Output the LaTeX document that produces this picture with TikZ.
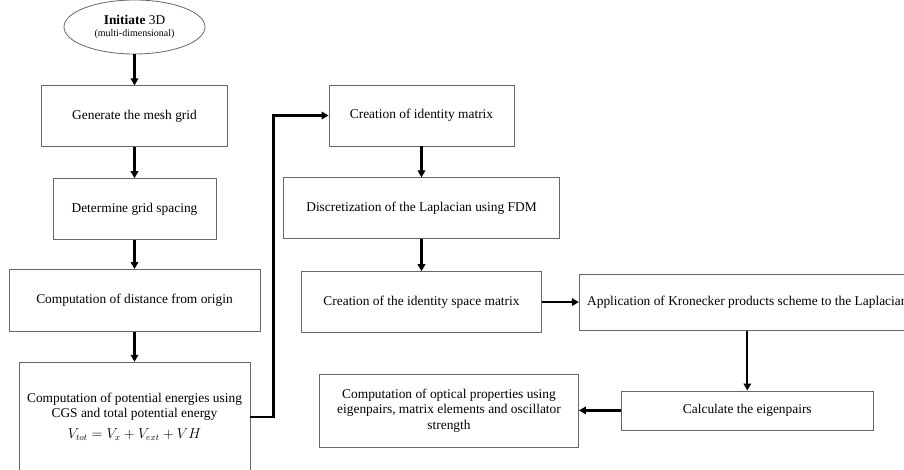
\documentclass[tikz,border=0pt]{standalone}
\usepackage{fontspec}
\setmainfont{Liberation Serif}
\usetikzlibrary{shapes.geometric,arrows.meta,positioning}

\begin{document}
\begin{tikzpicture}[x=1pt,y=-1pt,node distance=31pt,>={Triangle[length=7pt,width=7.5pt]},
	every node/.style={font=\fontsize{13.4}{15.5}\selectfont},
	block/.style={draw=black!60,line width=0.8pt,inner sep=0pt,align=center},
	flow/.style={line width=2.2pt}]
	
	\useasboundingbox (0,0) rectangle (904,469);
	
	% left column
	\node[block,ellipse,minimum width=141pt,minimum height=54pt] (start) at (134.5,27) {\textbf{Initiate} 3D\\[-3pt]{\fontsize{10}{11}\selectfont(multi-dimensional)}};
	\node[block,minimum width=186pt,minimum height=61pt] (mesh) [below=of start] {Generate the mesh grid};
	\node[block,minimum width=163pt,minimum height=61pt] (spacing) [below=of mesh] {Determine grid spacing};
	\node[block,minimum width=251pt,minimum height=62pt] (dist) [below=29pt of spacing] {Computation of distance from origin};
	\node[block,minimum width=231pt,minimum height=109pt] (pot) [below=30pt of dist] {Computation of potential energies using\\CGS and total potential energy\\[5pt]$V_{tot}=V_x+V_{ext}+VH$};
	
	% right part
	\node[block,minimum width=185pt,minimum height=61pt] (ident) at (421.5,115.5) {Creation of identity matrix};
	\node[block,minimum width=276pt,minimum height=61pt] (lap) [below=of ident] {Discretization of the Laplacian using FDM};
	\node[block,minimum width=240pt,minimum height=61pt] (space) [below=32pt of lap] {Creation of the identity space matrix};
	\node[block,minimum width=336pt,minimum height=56pt] (kron) [right=37pt of space] {Application of Kronecker products scheme to the Laplacian};
	\node[block,minimum width=252pt,minimum height=39pt] (eig) [below=60pt of kron] {Calculate the eigenpairs};
	\node[block,minimum width=259pt,minimum height=73pt] (optic) [left=42pt of eig] {Computation of optical properties using\\eigenpairs, matrix elements and oscillator\\strength};
	
	\path[->,flow] (start) edge (mesh);
	\path[->,flow] (mesh) edge (spacing);
	\path[->,flow] (spacing) edge (dist);
	\path[->,flow] (dist) edge (pot);
	\draw[->,flow] (pot.east) -- ++(23pt,0) |- (ident.west);
	\path[->,flow] (ident) edge (lap);
	\path[->,flow] (lap) edge (space);
	\path[->,flow] (space) edge (kron);
	\path[->,flow] (kron) edge (eig);
	\path[->,flow] (eig) edge (optic);
\end{tikzpicture}
\end{document}
